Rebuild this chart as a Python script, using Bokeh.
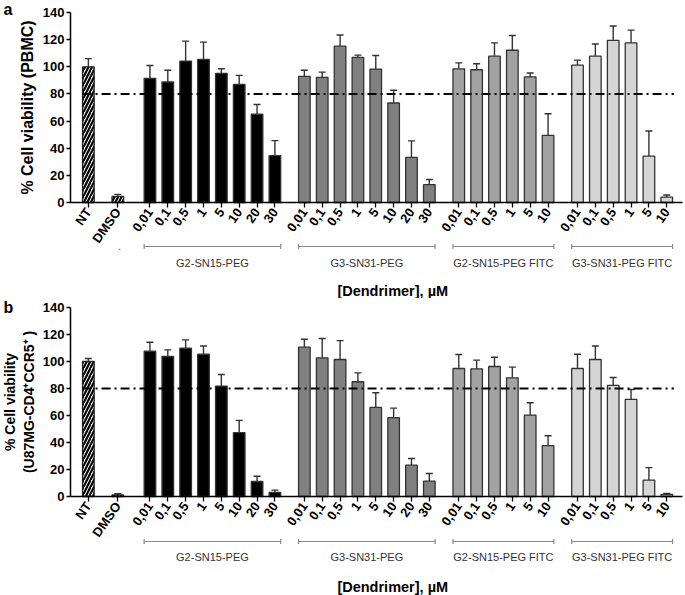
import math
from bokeh.plotting import figure
from bokeh.models import FixedTicker, Whisker, ColumnDataSource, TeeHead
from bokeh.layouts import column
from bokeh.embed import file_html
from bokeh.resources import INLINE
from bokeh.core.properties import value

# ---------------- data ----------------
controls = ["NT", "DMSO"]
conc_long = ["0,01", "0,1", "0,5", "1", "5", "10", "20", "30"]
conc_short = ["0,01", "0,1", "0,5", "1", "5", "10"]
groups = ["G2-SN15-PEG", "G3-SN31-PEG", "G2-SN15-PEG FITC", "G3-SN31-PEG FITC"]
group_conc = [conc_long, conc_long, conc_short, conc_short]
group_fill = ["#000000", "#808080", "#a2a2a2", "#d5d5d5"]
threshold = 80
y_ticks = [0, 20, 40, 60, 80, 100, 120, 140]

# Panel a: PBMC
a_ctrl_mean = [100.0, 4.5]
a_ctrl_sd = [6.0, 1.5]
a_g1_mean = [91.5, 88.8, 104.2, 105.4, 95.2, 87.0, 65.1, 34.6]
a_g1_sd = [9.5, 8.7, 14.7, 12.8, 3.3, 6.7, 7.1, 11.0]
a_g2_mean = [93.0, 92.2, 115.2, 106.9, 98.3, 73.3, 33.2, 13.2]
a_g2_sd = [4.4, 3.9, 8.2, 1.7, 10.0, 9.4, 12.2, 3.8]
a_g3_mean = [98.5, 97.8, 107.8, 112.2, 92.5, 49.5]
a_g3_sd = [4.4, 4.4, 9.8, 10.8, 2.9, 15.9]
a_g4_mean = [101.2, 107.8, 119.5, 117.6, 34.1, 4.0]
a_g4_sd = [3.7, 9.0, 10.5, 9.4, 18.6, 1.5]

# Panel b: U87MG-CD4+CCR5+
b_ctrl_mean = [100.0, 1.2]
b_ctrl_sd = [2.2, 0.8]
b_g1_mean = [107.6, 103.7, 109.8, 105.4, 81.8, 47.3, 11.1, 3.0]
b_g1_sd = [6.7, 4.9, 6.2, 6.1, 8.6, 9.1, 3.9, 1.7]
b_g2_mean = [110.6, 102.7, 101.5, 85.0, 66.0, 58.4, 23.2, 11.4]
b_g2_sd = [5.9, 14.3, 14.0, 6.6, 10.8, 7.1, 4.9, 5.6]
b_g3_mean = [94.8, 94.6, 96.3, 87.9, 60.3, 37.7]
b_g3_sd = [10.4, 6.4, 6.9, 7.9, 9.1, 7.3]
b_g4_mean = [94.8, 101.5, 82.3, 71.9, 12.1, 1.5]
b_g4_sd = [10.6, 10.0, 5.9, 7.4, 9.3, 0.7]

FONT = "Liberation Sans"

# ---------------- positions (layout) ----------------
ctrl_x = [20, 53]
group_x = []
cur = 89
for conc in group_conc:
    xs = [cur + 20 * i for i in range(len(conc))]
    group_x.append(xs)
    cur = xs[-1] + 33
BAR_W = 13
X_END = 689
FIG_W = 685
AXIS_PX = 70            # y axis position from figure's left edge
PPX = (FIG_W - AXIS_PX) / X_END
X_START = -AXIS_PX / PPX


def make_panel(letter, ctrl_mean, ctrl_sd, g_means, g_sds, ylabel, ylab_size,
               ylab_standoff, height, top_px, zero_px, br_px, grp_px, title_px,
               letter_top_px, show_dot):
    ppu = (zero_px - top_px) / 140.0
    ymax = 140 + top_px / ppu
    ymin = -(height - zero_px) / ppu

    def y_below(px):
        return -px / ppu

    p = figure(width=FIG_W, height=height, x_range=(X_START, X_END), y_range=(ymin, ymax),
               output_backend="svg", toolbar_location=None,
               min_border_left=0, min_border_right=0,
               min_border_top=0, min_border_bottom=0)
    p.outline_line_color = None
    p.grid.visible = False
    p.background_fill_color = "white"

    # bars of the groups
    xs, tops, ups, fills = [], [], [], []
    for gx, gm, gs, fc in zip(group_x, g_means, g_sds, group_fill):
        for x, m, s in zip(gx, gm, gs):
            xs.append(x); tops.append(m); ups.append(m + s); fills.append(fc)
    src = ColumnDataSource(dict(x=xs, top=tops, up=ups, fill=fills))
    p.vbar(x="x", top="top", bottom=0, width=BAR_W, source=src,
           fill_color="fill", line_color="#333333", line_width=1.3)

    # controls (hatched)
    csrc = ColumnDataSource(dict(x=ctrl_x, top=ctrl_mean,
                                 up=[m + s for m, s in zip(ctrl_mean, ctrl_sd)]))
    p.vbar(x="x", top="top", bottom=0, width=BAR_W, source=csrc,
           fill_color="white", line_color="#222222", line_width=1.3,
           hatch_pattern="/", hatch_color="black", hatch_weight=2.2, hatch_scale=7)

    for s in (src, csrc):
        w = Whisker(source=s, base="x", lower="top", upper="up",
                    line_color="#333333", line_width=1.4,
                    upper_head=TeeHead(size=7, line_color="#333333", line_width=1.4),
                    lower_head=None)
        p.add_layout(w)

    # threshold line
    p.line([ctrl_x[0] - BAR_W / 2, 676], [threshold, threshold],
           line_color="black", line_width=2, line_dash="9 4 2 4")

    # y axis
    yax = p.yaxis[0]
    yax.ticker = FixedTicker(ticks=y_ticks)
    yax.fixed_location = 0
    yax.bounds = (0, 140)
    yax.minor_tick_line_color = None
    yax.major_tick_out = 4
    yax.major_tick_in = 0
    yax.axis_line_width = 1.5
    yax.major_tick_line_width = 1.5
    yax.major_label_text_font = FONT
    yax.major_label_text_font_style = "bold"
    yax.major_label_text_font_size = "13px"
    yax.major_label_text_color = "black"
    yax.major_label_standoff = 2
    yax.axis_label = ylabel
    yax.axis_label_text_font = FONT
    yax.axis_label_text_font_style = "bold"
    yax.axis_label_text_font_size = ylab_size
    yax.axis_label_text_color = "black"
    yax.axis_label_standoff = ylab_standoff

    # x axis at y = 0
    all_x = ctrl_x + [x for gx in group_x for x in gx]
    all_lab = controls + [c for gc in group_conc for c in gc]
    xax = p.xaxis[0]
    xax.ticker = FixedTicker(ticks=all_x)
    xax.major_label_overrides = {x: l for x, l in zip(all_x, all_lab)}
    xax.fixed_location = 0
    xax.bounds = (0, 686)
    xax.minor_tick_line_color = None
    xax.major_tick_out = 5
    xax.major_tick_in = 0
    xax.axis_line_width = 1.5
    xax.major_tick_line_width = 1.3
    xax.major_label_orientation = 0.96
    xax.major_label_text_font = FONT
    xax.major_label_text_font_style = "bold"
    xax.major_label_text_font_size = "13px"
    xax.major_label_text_color = "black"
    xax.major_label_standoff = 2

    # group brackets and names
    yb = y_below(br_px)
    cap = 2.5 / ppu
    for gx, name in zip(group_x, groups):
        x0 = gx[0] - BAR_W / 2
        x1 = gx[-1] + BAR_W / 2
        p.segment(x0=[x0], y0=[yb], x1=[x1], y1=[yb], line_color="#888888", line_width=1.2)
        p.segment(x0=[x0, x1], y0=[yb - cap, yb - cap], x1=[x0, x1], y1=[yb + cap, yb + cap],
                  line_color="#888888", line_width=1.2)
        p.text(x=[(x0 + x1) / 2], y=[y_below(grp_px)], text=[name], text_align="center",
               text_baseline="middle", text_font=value(FONT), text_font_size="11px",
               text_color="#333333")
    if show_dot:
        p.text(x=[ctrl_x[1] + 2], y=[y_below(br_px - 1)], text=["."], text_align="center",
               text_baseline="middle", text_font=value(FONT), text_font_size="10px",
               text_color="#333333")

    p.text(x=[361], y=[y_below(title_px)], text=["[Dendrimer], µM"],
           text_align="center", text_baseline="middle", text_font=value(FONT),
           text_font_size="14.5px", text_font_style="bold", text_color="black")

    # panel letter
    p.text(x=[X_START + 3 / PPX], y=[ymax - letter_top_px / ppu], text=[letter],
           text_align="left", text_baseline="top", text_font=value(FONT),
           text_font_size="16px", text_font_style="bold", text_color="black")
    return p


pa = make_panel("a", a_ctrl_mean, a_ctrl_sd,
                [a_g1_mean, a_g2_mean, a_g3_mean, a_g4_mean],
                [a_g1_sd, a_g2_sd, a_g3_sd, a_g4_sd],
                "% Cell viability (PBMC)", "16px", 4,
                298, 12, 202, 44, 60, 88, 0, True)
pb = make_panel("b", b_ctrl_mean, b_ctrl_sd,
                [b_g1_mean, b_g2_mean, b_g3_mean, b_g4_mean],
                [b_g1_sd, b_g2_sd, b_g3_sd, b_g4_sd],
                "% Cell viability\n(U87MG-CD4\u207aCCR5\u207a )", "14px", 3,
                297, 9, 198, 45, 60, 90, 0, False)

layout = column(pa, pb)
open("out.html", "w").write(file_html(layout, INLINE))
